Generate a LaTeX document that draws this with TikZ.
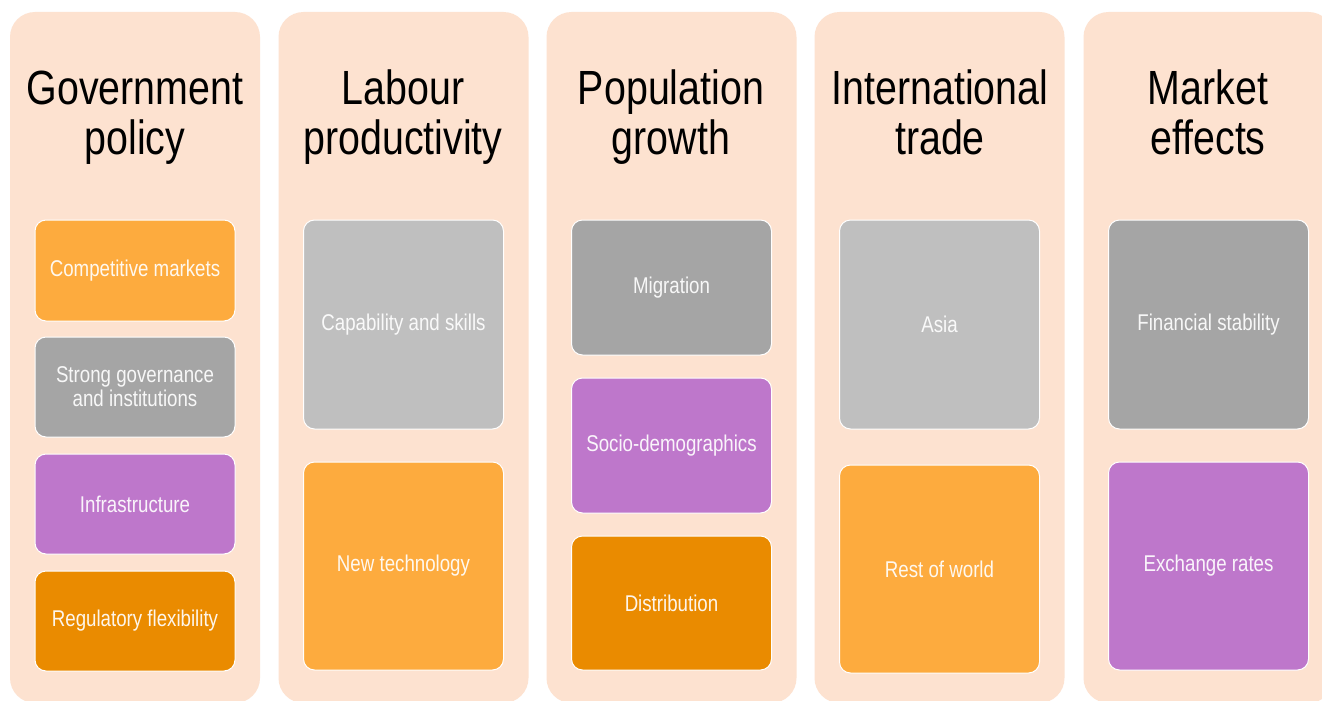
\documentclass[tikz,border=0pt]{standalone}
\usepackage{fontspec}
\setmainfont[FakeStretch=0.82]{Liberation Sans}
\definecolor{bgpeach}{HTML}{FDE2D0}
\definecolor{cOr}{HTML}{FDAB3E}
\definecolor{cDk}{HTML}{EA8B00}
\definecolor{cGr}{HTML}{A5A5A5}
\definecolor{cLg}{HTML}{BFBFBF}
\definecolor{cPu}{HTML}{BE77CB}
\tikzset{
  col/.style={fill=bgpeach, draw=none, rounded corners=25pt, minimum width=250pt, minimum height=691pt, inner sep=0pt, outer sep=0pt},
  ttl/.style={anchor=base, inner sep=0pt, font=\fontsize{48pt}{51pt}\selectfont, text=black},
  cbox/.style={draw=white, line width=1pt, rounded corners=11pt, minimum width=200pt, inner sep=0pt, outer sep=0pt, align=center, text=white, text opacity=0.92, font=\fontsize{22.8pt}{24pt}\selectfont}
}
\begin{document}
\begin{tikzpicture}[x=1pt,y=-1pt]
\useasboundingbox (0,0) rectangle (1322,701);
\fill[white] (0,0) rectangle (1322,701);
% columns
\node[col] (col1) at (135,357.5) {};
\node[col] (col2) at (403.5,357.5) {};
\node[col] (col3) at (671.5,357.5) {};
\node[col] (col4) at (939.5,357.5) {};
\node[col] (col5) at (1208.5,357.5) {};
% titles
\node[ttl] (t1a) at (135,104) {Government};
\node[ttl] (t1b) at (135,154) {policy};
\node[ttl] (t2a) at (403,104) {Labour};
\node[ttl] (t2b) at (403,154) {productivity};
\node[ttl] (t3a) at (671,104) {Population};
\node[ttl] (t3b) at (671,154) {growth};
\node[ttl] (t4a) at (940,104) {International};
\node[ttl] (t4b) at (940,154) {trade};
\node[ttl] (t5a) at (1208,104) {Market};
\node[ttl] (t5b) at (1208,154) {effects};
% column 1
\node[cbox, fill=cOr, minimum height=101pt] (b11) at (135,270.5) {Competitive markets};
\node[cbox, fill=cGr, minimum height=100pt] (b12) at (135,387) {Strong governance\\and institutions};
\node[cbox, fill=cPu, minimum height=100pt] (b13) at (135,504) {Infrastructure};
\node[cbox, fill=cDk, minimum height=100pt] (b14) at (135,621) {Regulatory flexibility};
% column 2
\node[cbox, fill=cLg, minimum height=209pt] (b21) at (403.5,324.5) {Capability and skills};
\node[cbox, fill=cOr, minimum height=208pt] (b22) at (403.5,566) {New technology};
% column 3
\node[cbox, fill=cGr, minimum height=135pt] (b31) at (671.5,287.5) {Migration};
\node[cbox, fill=cPu, minimum height=135pt] (b32) at (671.5,445.5) {Socio-demographics};
\node[cbox, fill=cDk, minimum height=134pt] (b33) at (671.5,603) {Distribution};
% column 4
\node[cbox, fill=cLg, minimum height=209pt] (b41) at (939.5,324.5) {Asia};
\node[cbox, fill=cOr, minimum height=208pt] (b42) at (939.5,569) {Rest of world};
% column 5
\node[cbox, fill=cGr, minimum height=209pt] (b51) at (1208.5,324.5) {Financial stability};
\node[cbox, fill=cPu, minimum height=208pt] (b52) at (1208.5,566) {Exchange rates};
\end{tikzpicture}
\end{document}
